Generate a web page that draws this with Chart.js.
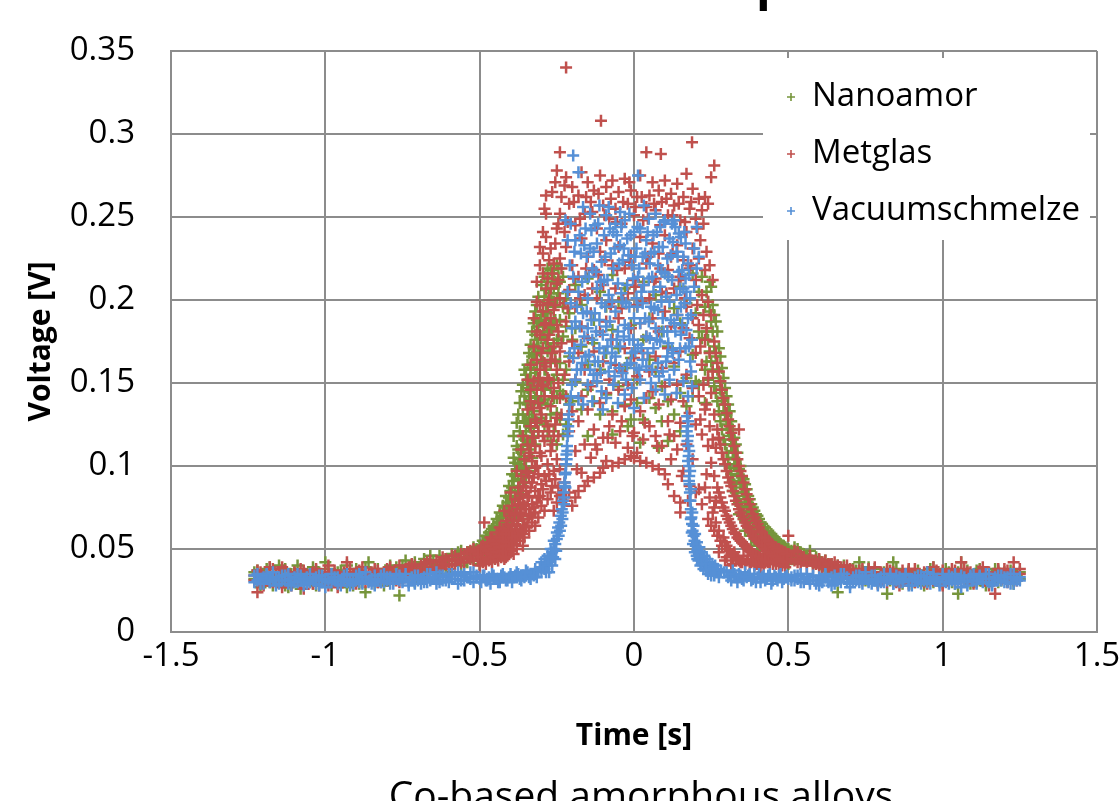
<!DOCTYPE html>
<html>
<head>
<meta charset="utf-8">
<script src="https://cdn.jsdelivr.net/npm/chart.js@4.4.0/dist/chart.umd.min.js"></script>
<style>
  html, body { margin: 0; padding: 0; background: #fff; overflow: hidden; }
  canvas { display: block; }
</style>
</head>
<body>
<canvas id="chart" width="1119" height="801"></canvas>
<script>
// series names / colours
var seriesNames = ['Nanoamor', 'Metglas', 'Vacuumschmelze'];
var seriesColors = ['#76953B', '#C0504D', '#5690D6'];

var titleText = 'p';                       // only the descender of the title is inside the picture
var captionText = 'Co-based amorphous alloys';

// sample times for the flat outer parts (s)
var outerLeftTime = [-1.23,-1.22,-1.21,-1.2,-1.19,-1.18,-1.17,-1.16,-1.15,-1.14,-1.13,-1.12,-1.11,-1.1,-1.09,-1.08,-1.07,-1.06,-1.05,-1.04,-1.03,-1.02,-1.01,-1,-0.99,-0.98,-0.97,-0.96,-0.95,-0.94,-0.93,-0.92,-0.91,-0.9,-0.89,-0.88,-0.87,-0.86,-0.85,-0.84,-0.83,-0.82,-0.81,-0.8,-0.79,-0.78,-0.77,-0.76,-0.75,-0.74,-0.73,-0.72,-0.71,-0.7,-0.69,-0.68,-0.67,-0.66,-0.65,-0.64,-0.63,-0.62,-0.61,-0.6,-0.59,-0.58,-0.57,-0.56,-0.55,-0.54,-0.53,-0.52,-0.51];
var outerRightTime = [0.51,0.52,0.53,0.54,0.55,0.56,0.57,0.58,0.59,0.6,0.61,0.62,0.63,0.64,0.65,0.66,0.67,0.68,0.69,0.7,0.71,0.72,0.73,0.74,0.75,0.76,0.77,0.78,0.79,0.8,0.81,0.82,0.83,0.84,0.85,0.86,0.87,0.88,0.89,0.9,0.91,0.92,0.93,0.94,0.95,0.96,0.97,0.98,0.99,1,1.01,1.02,1.03,1.04,1.05,1.06,1.07,1.08,1.09,1.1,1.11,1.12,1.13,1.14,1.15,1.16,1.17,1.18,1.19,1.2,1.21,1.22,1.23,1.24,1.25];

// ---- Nanoamor (V)
var nanoamorLeft = [0.036,0.031,0.027,0.034,0.038,0.030,0.032,0.035,
  0.040,0.031,0.028,0.034,0.030,0.036,0.032,0.026,0.033,0.035,
  0.031,0.029,0.037,0.033,0.030,0.042,0.034,0.028,0.032,0.036,
  0.030,0.033,0.027,0.035,0.031,0.038,0.029,0.034,0.024,0.042,
  0.032,0.036,0.030,0.034,0.028,0.037,0.033,0.031,0.039,0.022,
  0.035,0.043,0.032,0.037,0.030,0.039,0.034,0.036,0.041,0.046,
  0.037,0.040,0.035,0.042,0.038,0.044,0.036,0.043,0.048,0.040,
  0.045,0.042,0.047,0.044,0.050];
var nanoamorLeftB = [0.032,0.037,0.029,0.035,0.031,0.039,0.028,0.034,
  0.036,0.030,0.038,0.027,0.035,0.032,0.040,0.029,0.036,0.031,
  0.034,0.039,0.028,0.036,0.033,0.030,0.038,0.032,0.035,0.029,
  0.037,0.031,0.040,0.033,0.028,0.036,0.034,0.030,0.039,0.032,
  0.035,0.029,0.038,0.033,0.036,0.031,0.040,0.035,0.032,0.037,
  0.040,0.034,0.038,0.036,0.042,0.035,0.039,0.044,0.037,0.041,
  0.043,0.038,0.046,0.040,0.044,0.041,0.047,0.043,0.045,0.049,
  0.042,0.048,0.046,0.051,0.047];
var nanoamorRight = [0.049,0.046,0.050,0.044,0.047,0.043,0.045,0.041,0.044,0.040,
  0.042,0.038,0.041,0.036,0.039,0.024,0.037,0.040,0.035,0.038,
  0.034,0.037,0.042,0.033,0.036,0.031,0.035,0.038,0.032,0.034,
  0.036,0.023,0.033,0.042,0.031,0.035,0.029,0.034,0.037,0.032,
  0.030,0.035,0.033,0.028,0.036,0.032,0.039,0.031,0.034,0.029,
  0.033,0.036,0.030,0.034,0.023,0.042,0.032,0.035,0.029,0.033,
  0.037,0.031,0.034,0.028,0.035,0.032,0.038,0.030,0.033,0.036,
  0.031,0.034,0.029,0.035,0.032];
var nanoamorRightB = [0.047,0.051,0.045,0.048,0.043,0.046,0.049,0.042,0.045,0.043,
  0.039,0.043,0.037,0.041,0.038,0.040,0.035,0.039,0.037,0.034,
  0.038,0.035,0.033,0.037,0.031,0.039,0.034,0.036,0.030,0.035,
  0.033,0.037,0.031,0.035,0.038,0.030,0.034,0.032,0.036,0.029,
  0.034,0.037,0.031,0.035,0.033,0.038,0.030,0.036,0.032,0.035,
  0.038,0.031,0.035,0.029,0.036,0.033,0.031,0.037,0.034,0.030,
  0.035,0.038,0.032,0.036,0.030,0.034,0.033,0.037,0.031,0.035,
  0.033,0.037,0.031,0.034,0.036];
var nanoamorCore = [
  [-0.50,[0.046,0.052,0.041]],[-0.49,[0.049,0.043,0.055]],[-0.48,[0.051,0.045,0.058]],
  [-0.47,[0.047,0.054,0.060]],[-0.46,[0.050,0.057,0.044,0.062]],[-0.45,[0.053,0.061,0.048]],
  [-0.44,[0.058,0.050,0.066]],[-0.43,[0.055,0.063,0.069,0.049]],[-0.42,[0.060,0.072,0.053]],
  [-0.41,[0.066,0.058,0.078]],[-0.40,[0.071,0.062,0.085,0.055]],[-0.39,[0.076,0.067,0.091]],
  [-0.38,[0.082,0.070,0.098,0.061]],[-0.37,[0.088,0.104,0.075]],[-0.36,[0.095,0.112,0.083,0.068]],
  [-0.35,[0.103,0.121,0.090]],[-0.34,[0.110,0.131,0.097,0.142]],[-0.33,[0.118,0.148,0.105,0.135]],
  [-0.32,[0.127,0.156,0.113,0.167]],[-0.31,[0.138,0.172,0.121,0.184]],[-0.30,[0.146,0.191,0.129,0.163]],
  [-0.29,[0.158,0.202,0.140,0.178]],[-0.28,[0.169,0.211,0.151,0.192]],[-0.27,[0.183,0.218,0.162,0.147]],
  [-0.26,[0.196,0.141,0.174,0.207]],
  [-0.25,[0.155,0.201,0.132]],[-0.24,[0.188,0.145]],[-0.23,[0.178,0.214,0.143]],[-0.22,[0.201,0.158]],
  [-0.21,[0.137,0.192,0.166]],[-0.20,[0.176,0.139]],
  [-0.19,[0.209,0.151,0.183]],[-0.17,[0.172,0.134,0.197]],[-0.15,[0.146,0.213,0.161,0.118]],
  [-0.13,[0.188,0.139,0.174]],[-0.11,[0.158,0.205,0.131]],[-0.09,[0.196,0.143,0.168]],
  [-0.07,[0.133,0.182,0.215,0.119]],[-0.05,[0.171,0.148,0.199]],[-0.03,[0.137,0.207,0.159]],
  [-0.02,[0.124]],[-0.01,[0.185,0.128,0.165]],[0.01,[0.152,0.196,0.138]],
  [0.02,[0.114]],[0.03,[0.128,0.176,0.211]],[0.05,[0.164,0.141,0.189]],
  [0.07,[0.203,0.135,0.157]],[0.08,[0.111]],[0.09,[0.148,0.181,0.127]],
  [0.11,[0.172,0.214,0.139,0.115]],[0.13,[0.131,0.160,0.195]],[0.15,[0.186,0.144,0.208,0.121]],
  [0.17,[0.153,0.198,0.136]],[0.19,[0.216,0.167,0.142]],[0.20,[0.192,0.151]],[0.21,[0.181,0.205,0.149]],
  [0.22,[0.177,0.214]],[0.23,[0.196,0.158,0.138]],
  [0.24,[0.199,0.176,0.152]],[0.25,[0.187,0.163,0.208]],[0.26,[0.172,0.148,0.191]],
  [0.27,[0.158,0.181,0.139]],[0.28,[0.146,0.166,0.127]],[0.29,[0.137,0.153,0.116]],
  [0.30,[0.125,0.142,0.108,0.131]],[0.31,[0.118,0.133,0.099]],[0.32,[0.109,0.122,0.091,0.085]],
  [0.33,[0.101,0.113,0.084]],[0.34,[0.094,0.098,0.078,0.071]],[0.35,[0.087,0.093,0.072]],
  [0.36,[0.080,0.089,0.067,0.061]],[0.37,[0.075,0.082,0.063]],[0.38,[0.071,0.077,0.058,0.052]],
  [0.39,[0.068,0.073,0.056]],[0.40,[0.064,0.070,0.054,0.049]],[0.41,[0.066,0.061,0.052]],
  [0.42,[0.063,0.058,0.050]],[0.43,[0.060,0.056,0.049,0.045]],[0.44,[0.058,0.054,0.047]],
  [0.45,[0.057,0.052,0.046]],[0.46,[0.055,0.050,0.045,0.042]],[0.47,[0.054,0.049,0.044]],
  [0.48,[0.052,0.048,0.043]],[0.49,[0.051,0.046,0.042]],[0.50,[0.050,0.045,0.041]]
];
var nanoamorCoreB = [
  [-0.505,[0.048,0.044]],[-0.495,[0.052,0.046]],[-0.485,[0.054,0.048]],[-0.475,[0.051,0.057]],
  [-0.465,[0.055,0.049,0.060]],[-0.455,[0.058,0.052,0.064]],[-0.445,[0.061,0.055,0.068]],
  [-0.435,[0.059,0.066,0.072]],[-0.425,[0.064,0.070,0.076]],[-0.415,[0.069,0.075,0.082,0.063]],
  [-0.405,[0.074,0.081,0.088]],[-0.395,[0.079,0.087,0.095,0.072]],[-0.385,[0.085,0.094,0.102]],
  [-0.375,[0.092,0.101,0.110,0.082]],[-0.365,[0.099,0.108,0.118]],[-0.355,[0.106,0.116,0.127,0.097]],
  [-0.345,[0.115,0.126,0.137]],[-0.335,[0.123,0.137,0.151,0.114]],[-0.325,[0.133,0.147,0.162,0.121]],
  [-0.315,[0.142,0.158,0.176]],[-0.305,[0.152,0.169,0.187,0.139]],[-0.295,[0.163,0.181,0.197]],
  [-0.285,[0.174,0.193,0.206,0.158]],[-0.275,[0.186,0.202,0.171]],[-0.265,[0.199,0.182,0.213]],
  [-0.255,[0.188,0.211,0.164]],[-0.245,[0.204,0.176,0.219]],
  [0.235,[0.205,0.181,0.163]],[0.245,[0.193,0.169,0.211]],[0.255,[0.181,0.158,0.197]],
  [0.265,[0.166,0.187,0.144]],[0.275,[0.153,0.171,0.133]],[0.285,[0.141,0.159,0.122]],
  [0.295,[0.131,0.147,0.113]],[0.305,[0.122,0.137,0.104]],[0.315,[0.113,0.127,0.095]],
  [0.325,[0.105,0.117,0.089]],[0.335,[0.097,0.108,0.082]],[0.345,[0.090,0.100,0.076]],
  [0.355,[0.084,0.092,0.070]],[0.365,[0.078,0.086,0.066]],[0.375,[0.073,0.080,0.062]],
  [0.385,[0.069,0.075,0.059]],[0.395,[0.066,0.071,0.057]],[0.405,[0.063,0.068,0.055]],
  [0.415,[0.061,0.065]],[0.425,[0.059,0.063]],[0.435,[0.057,0.061]],[0.445,[0.055,0.059]],
  [0.455,[0.054,0.057]],[0.465,[0.052,0.055]],[0.475,[0.051,0.053]],[0.485,[0.049,0.052]],
  [0.495,[0.048,0.050]]
];
// outer edge of the rising flank, where the green shows outside the red
var nanoamorFlank = [
  [-0.39,[0.105,0.118]],[-0.38,[0.112,0.126]],[-0.375,[0.131]],[-0.37,[0.121,0.138]],[-0.365,[0.145]],
  [-0.36,[0.131,0.149]],[-0.355,[0.142,0.158]],[-0.35,[0.138,0.155,0.127]],[-0.345,[0.161,0.147]],
  [-0.34,[0.152,0.168,0.124]],[-0.335,[0.173,0.159]],[-0.33,[0.166,0.181,0.129]],[-0.325,[0.186,0.171]],
  [-0.32,[0.179,0.193,0.141]],[-0.315,[0.197,0.188]],[-0.31,[0.202,0.151,0.171]],[-0.30,[0.209,0.177,0.138]],
  [-0.29,[0.214,0.188,0.146,0.125]],[-0.28,[0.219,0.181,0.137,0.118]],[-0.27,[0.204,0.171,0.131,0.115]],
  [-0.26,[0.216,0.187,0.152,0.121]],[-0.25,[0.221,0.176,0.141,0.113]],[-0.24,[0.211,0.162,0.128]],
  [-0.23,[0.196,0.152,0.119]],[-0.22,[0.184,0.141,0.125]]
];

// ---- Metglas (V)
var metglasLeft = [0.034,0.024,0.036,0.028,0.033,0.039,0.030,0.035,
  0.032,0.027,0.037,0.033,0.029,0.035,0.031,0.038,0.026,0.034,
  0.030,0.036,0.032,0.028,0.035,0.033,0.040,0.030,0.034,0.027,
  0.032,0.036,0.042,0.031,0.034,0.029,0.037,0.033,0.030,0.035,
  0.032,0.038,0.030,0.034,0.036,0.031,0.039,0.033,0.035,0.030,
  0.037,0.034,0.039,0.032,0.040,0.036,0.038,0.041,0.035,0.043,
  0.039,0.037,0.042,0.040,0.044,0.038,0.046,0.041,0.043,0.047,
  0.042,0.048,0.044,0.050,0.046];
var metglasLeftB = [0.031,0.037,0.033,0.029,0.036,0.032,0.038,0.030,
  0.035,0.039,0.031,0.034,0.028,0.036,0.033,0.030,0.037,0.032,
  0.035,0.029,0.038,0.033,0.031,0.036,0.028,0.034,0.037,0.032,
  0.030,0.035,0.033,0.038,0.029,0.036,0.032,0.039,0.034,0.031,
  0.036,0.033,0.037,0.030,0.035,0.038,0.033,0.036,0.031,0.040,
  0.035,0.038,0.033,0.041,0.037,0.034,0.040,0.036,0.042,0.038,
  0.036,0.043,0.039,0.045,0.041,0.043,0.040,0.046,0.044,0.042,
  0.047,0.045,0.049,0.043,0.048];
var metglasRight = [0.046,0.043,0.048,0.041,0.045,0.042,0.044,0.040,0.043,0.039,
  0.042,0.040,0.038,0.041,0.037,0.040,0.036,0.039,0.035,0.038,
  0.036,0.033,0.037,0.031,0.035,0.038,0.032,0.034,0.029,0.036,
  0.033,0.030,0.037,0.032,0.035,0.028,0.034,0.031,0.038,0.033,
  0.030,0.035,0.032,0.036,0.029,0.034,0.031,0.037,0.033,0.028,
  0.035,0.032,0.038,0.030,0.034,0.042,0.031,0.036,0.033,0.029,
  0.034,0.037,0.031,0.035,0.028,0.033,0.023,0.036,0.032,0.038,
  0.030,0.034,0.042,0.031,0.035];
var metglasRightB = [0.044,0.049,0.042,0.046,0.044,0.040,0.046,0.042,0.041,0.044,
  0.039,0.043,0.041,0.038,0.042,0.037,0.039,0.036,0.040,0.034,
  0.037,0.035,0.033,0.038,0.034,0.032,0.036,0.039,0.033,0.031,
  0.035,0.038,0.032,0.036,0.030,0.034,0.037,0.033,0.029,0.035,
  0.038,0.032,0.034,0.030,0.036,0.033,0.039,0.031,0.035,0.037,
  0.031,0.035,0.033,0.037,0.030,0.034,0.038,0.032,0.036,0.034,
  0.030,0.035,0.039,0.032,0.036,0.031,0.034,0.038,0.033,0.035,
  0.037,0.032,0.036,0.033,0.038];
var metglasCore = [
  [-0.50,[0.044,0.049,0.040]],[-0.49,[0.047,0.042,0.052]],[-0.485,[0.066]],
  [-0.48,[0.045,0.050,0.041]],[-0.47,[0.048,0.053,0.043]],[-0.46,[0.046,0.051,0.042,0.056]],
  [-0.45,[0.049,0.054,0.044]],[-0.44,[0.047,0.052,0.058,0.043]],[-0.43,[0.050,0.056,0.045]],
  [-0.42,[0.053,0.048,0.061,0.044]],[-0.41,[0.051,0.057,0.065,0.046]],[-0.40,[0.055,0.049,0.062,0.070]],
  [-0.39,[0.053,0.059,0.067,0.047]],[-0.38,[0.057,0.064,0.074,0.050]],[-0.37,[0.055,0.062,0.071,0.081]],
  [-0.366,[0.110]],[-0.36,[0.059,0.068,0.078,0.088,0.052]],[-0.35,[0.063,0.074,0.085,0.097]],
  [-0.34,[0.061,0.070,0.082,0.094,0.106]],[-0.33,[0.066,0.077,0.090,0.103,0.117]],
  [-0.32,[0.072,0.085,0.099,0.112,0.128,0.064]],[-0.31,[0.069,0.081,0.095,0.121,0.138,0.153]],
  [-0.30,[0.076,0.089,0.106,0.131,0.149,0.168]],[-0.29,[0.073,0.094,0.115,0.142,0.162,0.185,0.255]],
  [-0.28,[0.080,0.101,0.124,0.153,0.176,0.198,0.213]],[-0.27,[0.084,0.109,0.136,0.164,0.189,0.207,0.231]],
  [-0.26,[0.073,0.097,0.118,0.147,0.172,0.194,0.222]],[-0.25,[0.078,0.104,0.129,0.158,0.185,0.210,0.278,0.243]],
  [-0.24,[0.082,0.098,0.141,0.169,0.201,0.225,0.289,0.252]],
  [-0.22,[0.340,0.274,0.232,0.187,0.142,0.079]],[-0.21,[0.258,0.206,0.163,0.121,0.084]],
  [-0.20,[0.268,0.221,0.175,0.133,0.076]],[-0.19,[0.245,0.196,0.152,0.109,0.081]],
  [-0.18,[0.263,0.214,0.168,0.127,0.085]],[-0.17,[0.277,0.237,0.184,0.142,0.096]],
  [-0.16,[0.252,0.203,0.158,0.113,0.088]],[-0.15,[0.271,0.226,0.177,0.134,0.091]],
  [-0.14,[0.259,0.192,0.148,0.105]],[-0.13,[0.266,0.218,0.169,0.122,0.093]],
  [-0.12,[0.243,0.201,0.155,0.110]],[-0.11,[0.275,0.229,0.181,0.138,0.096]],
  [-0.107,[0.308]],[-0.10,[0.257,0.209,0.163,0.117,0.099]],[-0.09,[0.268,0.236,0.187,0.144,0.103]],
  [-0.08,[0.249,0.198,0.152,0.124]],[-0.07,[0.272,0.221,0.176,0.131,0.100]],
  [-0.06,[0.255,0.207,0.161,0.114]],[-0.05,[0.265,0.232,0.189,0.146,0.102]],
  [-0.04,[0.246,0.195,0.157,0.127]],[-0.03,[0.273,0.219,0.171,0.136,0.104]],
  [-0.02,[0.258,0.204,0.149,0.111]],[-0.01,[0.266,0.227,0.183,0.140,0.106]],
  [0.00,[0.251,0.212,0.165,0.120,0.105]],[0.01,[0.262,0.197,0.154,0.108]],
  [0.02,[0.275,0.238,0.186,0.133,0.103]],[0.03,[0.248,0.209,0.168,0.116]],
  [0.04,[0.289,0.256,0.222,0.178,0.141,0.102]],[0.05,[0.263,0.201,0.157,0.124]],
  [0.06,[0.271,0.234,0.189,0.145,0.100]],[0.07,[0.254,0.213,0.166,0.118]],
  [0.08,[0.266,0.228,0.181,0.137,0.098]],[0.087,[0.288]],[0.09,[0.259,0.205,0.159,0.112]],
  [0.10,[0.272,0.239,0.193,0.148,0.095]],[0.11,[0.251,0.218,0.171,0.127,0.089]],
  [0.12,[0.264,0.226,0.184,0.140,0.104]],[0.13,[0.257,0.207,0.162,0.118,0.082]],
  [0.14,[0.270,0.233,0.191,0.149,0.110]],[0.15,[0.248,0.214,0.169,0.126,0.078,0.072]],
  [0.16,[0.262,0.224,0.183,0.139,0.097]],[0.17,[0.276,0.241,0.196,0.155,0.113]],
  [0.18,[0.255,0.219,0.177,0.132,0.088]],[0.188,[0.295]],[0.19,[0.267,0.231,0.189,0.147,0.104]],
  [0.20,[0.249,0.212,0.168,0.125,0.084]],[0.21,[0.261,0.225,0.185,0.142,0.086]],
  [0.22,[0.254,0.203,0.161,0.119,0.077]],[0.23,[0.262,0.218,0.176,0.134,0.087]],
  [0.24,[0.258,0.199,0.153,0.112,0.068]],[0.25,[0.274,0.191,0.144,0.102,0.064]],
  [0.26,[0.281,0.175,0.131,0.094,0.075,0.061]],[0.27,[0.162,0.122,0.087,0.058]],
  [0.28,[0.151,0.113,0.081,0.055]],[0.29,[0.141,0.104,0.075,0.057]],
  [0.30,[0.132,0.097,0.070,0.052,0.045]],[0.31,[0.124,0.090,0.066,0.049]],
  [0.32,[0.116,0.085,0.062,0.047,0.041]],[0.33,[0.108,0.079,0.059,0.045]],
  [0.34,[0.122,0.100,0.074,0.056,0.043]],[0.35,[0.094,0.070,0.054,0.042]],
  [0.36,[0.086,0.066,0.052,0.041]],[0.37,[0.080,0.063,0.050,0.044]],
  [0.38,[0.074,0.060,0.048,0.042]],[0.39,[0.069,0.057,0.047,0.040]],
  [0.40,[0.065,0.055,0.046,0.041]],[0.41,[0.061,0.053,0.045,0.039]],
  [0.42,[0.058,0.051,0.044,0.040]],[0.43,[0.056,0.049,0.043]],[0.44,[0.054,0.048,0.042]],
  [0.45,[0.052,0.047,0.041]],[0.46,[0.051,0.046,0.041]],[0.47,[0.050,0.045,0.040]],
  [0.48,[0.049,0.044,0.040]],[0.49,[0.048,0.044,0.039]],[0.50,[0.047,0.058,0.043]]
];
var metglasCoreB = [
  [-0.505,[0.043,0.047]],[-0.495,[0.045,0.051]],[-0.475,[0.049,0.044,0.054]],[-0.465,[0.047,0.052,0.057]],
  [-0.455,[0.050,0.045,0.055]],[-0.445,[0.048,0.053,0.060]],[-0.435,[0.051,0.046,0.057,0.063]],
  [-0.425,[0.049,0.055,0.062]],[-0.415,[0.052,0.059,0.067,0.045]],[-0.405,[0.054,0.061,0.072]],
  [-0.395,[0.057,0.050,0.065,0.076]],[-0.385,[0.055,0.062,0.071,0.080]],[-0.375,[0.058,0.067,0.077,0.087]],
  [-0.365,[0.061,0.072,0.083,0.094]],[-0.355,[0.064,0.076,0.090,0.104,0.057]],[-0.345,[0.068,0.081,0.096,0.113]],
  [-0.335,[0.071,0.087,0.108,0.124,0.139]],[-0.325,[0.075,0.093,0.117,0.135,0.151]],
  [-0.315,[0.078,0.100,0.126,0.146,0.164,0.181]],[-0.305,[0.082,0.108,0.135,0.158,0.179,0.197]],
  [-0.295,[0.086,0.118,0.148,0.171,0.193,0.216]],[-0.285,[0.091,0.127,0.160,0.186,0.207,0.238]],
  [-0.275,[0.095,0.121,0.152,0.179,0.200,0.224]],[-0.265,[0.088,0.113,0.142,0.168,0.216,0.265]],
  [-0.255,[0.092,0.125,0.163,0.197,0.234,0.271]],[-0.245,[0.087,0.118,0.150,0.181,0.212,0.246]],
  [-0.235,[0.083,0.131,0.174,0.219,0.262]],[-0.225,[0.090,0.155,0.198,0.241,0.269]],
  [-0.215,[0.247,0.195]],[-0.195,[0.259,0.213]],[-0.185,[0.098]],[-0.175,[0.249,0.201]],
  [-0.155,[0.262,0.219]],[-0.135,[0.253,0.207]],[-0.125,[0.113]],[-0.115,[0.264,0.215]],
  [-0.095,[0.251,0.224]],[-0.085,[0.117]],[-0.075,[0.261,0.196]],[-0.055,[0.247,0.218]],
  [-0.045,[0.121]],[-0.035,[0.259,0.201]],[-0.015,[0.271,0.223]],[-0.005,[0.118]],
  [0.005,[0.256,0.208]],[0.025,[0.262,0.199]],[0.035,[0.126]],[0.045,[0.249,0.226]],
  [0.065,[0.258,0.211]],[0.075,[0.112]],[0.085,[0.245,0.219]],[0.105,[0.261,0.204]],
  [0.115,[0.119]],[0.125,[0.251,0.228]],[0.145,[0.258,0.212]],[0.155,[0.094]],
  [0.165,[0.247,0.201]],[0.175,[0.079]],[0.185,[0.259,0.221]],[0.205,[0.243,0.197]],
  [0.215,[0.236,0.172,0.128]],[0.225,[0.246,0.191,0.149]],[0.235,[0.229,0.183,0.137,0.095]],
  [0.245,[0.221,0.168,0.124,0.081]],[0.255,[0.212,0.157,0.116,0.072]],
  [0.265,[0.168,0.111,0.079,0.066]],[0.275,[0.157,0.117,0.084,0.061,0.048]],
  [0.285,[0.146,0.108,0.078,0.052]],[0.295,[0.137,0.101,0.073,0.054,0.043]],
  [0.305,[0.128,0.093,0.068,0.050]],[0.315,[0.120,0.088,0.064,0.046,0.040]],
  [0.325,[0.112,0.082,0.060,0.048]],[0.335,[0.104,0.077,0.057,0.044]],
  [0.345,[0.097,0.072,0.055,0.042]],[0.355,[0.090,0.068,0.053,0.046]],
  [0.365,[0.083,0.064,0.051,0.043]],[0.375,[0.077,0.061,0.049,0.041]],
  [0.385,[0.071,0.058,0.047,0.043]],[0.395,[0.067,0.056,0.046,0.041]],
  [0.405,[0.063,0.054,0.045]],[0.415,[0.060,0.052,0.044]],[0.425,[0.057,0.050,0.043]],
  [0.435,[0.055,0.048,0.042]],[0.445,[0.053,0.047]],[0.455,[0.051,0.046]],[0.465,[0.050,0.045]],
  [0.475,[0.049,0.044]],[0.485,[0.048,0.043]],[0.495,[0.047,0.042]]
];
var metglasFlank = [
  [-0.42,[0.073]],[-0.40,[0.084]],[-0.38,[0.097]],[-0.36,[0.118]],
  [-0.345,[0.134,0.152]],[-0.335,[0.161,0.146]],[-0.325,[0.172,0.189]],[-0.315,[0.199,0.211]],
  [-0.305,[0.221,0.232]],[-0.295,[0.241,0.228]],[-0.285,[0.252,0.263]]
];

// ---- Vacuumschmelze (V)
var vacuumLeft = [0.034,0.031,0.029,0.033,0.035,0.030,0.032,0.028,
  0.033,0.031,0.034,0.029,0.032,0.030,0.035,0.031,0.028,0.033,
  0.030,0.032,0.029,0.034,0.031,0.027,0.032,0.030,0.033,0.029,
  0.031,0.034,0.030,0.028,0.032,0.031,0.035,0.029,0.033,0.030,
  0.032,0.028,0.031,0.034,0.030,0.033,0.029,0.032,0.035,0.031,
  0.030,0.033,0.028,0.032,0.034,0.031,0.029,0.033,0.030,0.035,
  0.032,0.029,0.034,0.031,0.033,0.030,0.035,0.032,0.029,0.034,
  0.031,0.033,0.036,0.030,0.034];
var vacuumLeftB = [0.030,0.035,0.032,0.029,0.034,0.031,0.036,0.033,
  0.029,0.034,0.031,0.035,0.028,0.033,0.030,0.034,0.032,0.029,
  0.035,0.031,0.033,0.028,0.034,0.032,0.030,0.035,0.031,0.033,
  0.028,0.032,0.035,0.031,0.029,0.034,0.030,0.033,0.036,0.031,
  0.029,0.034,0.032,0.030,0.035,0.031,0.033,0.029,0.032,0.034,
  0.031,0.035,0.030,0.033,0.029,0.034,0.032,0.030,0.035,0.031,
  0.033,0.036,0.030,0.034,0.031,0.035,0.032,0.034,0.036,0.031,
  0.035,0.033,0.032,0.036,0.033];
var vacuumRight = [0.033,0.031,0.034,0.030,0.032,0.035,0.029,0.033,0.031,0.028,
  0.032,0.034,0.030,0.033,0.029,0.031,0.035,0.032,0.030,0.027,
  0.033,0.031,0.034,0.029,0.032,0.030,0.034,0.031,0.028,0.033,
  0.030,0.032,0.035,0.029,0.031,0.033,0.030,0.034,0.028,0.032,
  0.031,0.034,0.029,0.033,0.030,0.032,0.035,0.031,0.028,0.033,
  0.030,0.034,0.031,0.029,0.032,0.027,0.033,0.030,0.034,0.031,
  0.029,0.033,0.032,0.035,0.030,0.028,0.032,0.034,0.031,0.033,
  0.030,0.035,0.029,0.032,0.031];
var vacuumRightB = [0.031,0.034,0.032,0.035,0.030,0.033,0.031,0.034,0.029,0.033,
  0.030,0.035,0.031,0.028,0.034,0.032,0.030,0.035,0.033,0.029,
  0.031,0.034,0.030,0.033,0.036,0.031,0.029,0.034,0.032,0.030,
  0.035,0.031,0.033,0.029,0.034,0.030,0.032,0.035,0.031,0.028,
  0.033,0.030,0.034,0.031,0.036,0.029,0.033,0.032,0.030,0.035,
  0.032,0.029,0.033,0.035,0.030,0.034,0.031,0.028,0.033,0.035,
  0.031,0.034,0.030,0.032,0.035,0.029,0.033,0.031,0.034,0.030,
  0.033,0.029,0.035,0.031,0.033];
var vacuumCore = [
  [-0.50,[0.032]],[-0.49,[0.034]],[-0.48,[0.031]],[-0.47,[0.033]],[-0.46,[0.035]],
  [-0.45,[0.032]],[-0.44,[0.030]],[-0.43,[0.034]],[-0.42,[0.033]],[-0.41,[0.031]],
  [-0.40,[0.035]],[-0.39,[0.033]],[-0.38,[0.036]],[-0.37,[0.032]],[-0.36,[0.034]],
  [-0.35,[0.037]],[-0.34,[0.033]],[-0.33,[0.035]],[-0.32,[0.038]],[-0.31,[0.036]],
  [-0.300,[0.037,0.042]],[-0.295,[0.039]],[-0.290,[0.044,0.038]],[-0.285,[0.041]],
  [-0.280,[0.046,0.040]],[-0.275,[0.044,0.036]],[-0.270,[0.050,0.045]],[-0.265,[0.048,0.040]],
  [-0.260,[0.055,0.050]],[-0.255,[0.053,0.044]],[-0.250,[0.060,0.056]],[-0.246,[0.063]],
  [-0.242,[0.066]],[-0.240,[0.061]],[-0.237,[0.070]],[-0.234,[0.074]],[-0.232,[0.068]],
  [-0.230,[0.079]],[-0.228,[0.084]],[-0.226,[0.077]],[-0.225,[0.090]],[-0.223,[0.095]],
  [-0.222,[0.087]],[-0.220,[0.101]],[-0.219,[0.107]],[-0.217,[0.112]],[-0.215,[0.118]],
  [-0.213,[0.124]],[-0.211,[0.131]],[-0.209,[0.137]],
  [-0.205,[0.142,0.198,0.246]],[-0.197,[0.287,0.165,0.214]],[-0.190,[0.152,0.236,0.187]],
  [-0.180,[0.277,0.205,0.141]],[-0.172,[0.173,0.228,0.158]],[-0.165,[0.256,0.192,0.137]],
  [-0.157,[0.214,0.166,0.243]],[-0.150,[0.149,0.201,0.183]],[-0.142,[0.231,0.158,0.252]],
  [-0.135,[0.176,0.139,0.219]],[-0.127,[0.245,0.192,0.163]],[-0.120,[0.207,0.151,0.234]],
  [-0.112,[0.171,0.257,0.188]],[-0.105,[0.145,0.223,0.198]],[-0.097,[0.239,0.168,0.212]],
  [-0.090,[0.184,0.141,0.251]],[-0.082,[0.256,0.203,0.157]],[-0.075,[0.162,0.228,0.176]],
  [-0.067,[0.219,0.149,0.241]],[-0.060,[0.193,0.246,0.166]],[-0.052,[0.138,0.210,0.181]],
  [-0.045,[0.233,0.172,0.253]],[-0.037,[0.156,0.199,0.224]],[-0.030,[0.248,0.185,0.143]],
  [-0.022,[0.209,0.161,0.237]],[-0.015,[0.176,0.252,0.196]],[-0.007,[0.147,0.221,0.168]],
  [0.000,[0.241,0.189,0.135]],[0.008,[0.201,0.159,0.231]],[0.013,[0.275,0.173,0.214]],
  [0.020,[0.186,0.243,0.152]],[0.028,[0.226,0.164,0.198]],[0.032,[0.257,0.141,0.209]],
  [0.040,[0.178,0.236,0.160]],[0.048,[0.213,0.249,0.187]],[0.055,[0.150,0.196,0.228]],
  [0.063,[0.239,0.171,0.205]],[0.070,[0.183,0.252,0.146]],[0.078,[0.221,0.162,0.194]],
  [0.085,[0.244,0.208,0.175]],[0.093,[0.157,0.232,0.189]],[0.100,[0.216,0.143,0.248]],
  [0.108,[0.181,0.225,0.166]],[0.115,[0.237,0.199,0.152]],[0.123,[0.170,0.246,0.212]],
  [0.130,[0.248,0.186,0.158]],[0.138,[0.203,0.229,0.144]],[0.145,[0.164,0.217,0.240]],
  [0.152,[0.238,0.179,0.196]],[0.160,[0.151,0.226,0.207]],[0.167,[0.213,0.171,0.234]],
  [0.175,[0.189,0.142,0.222]],[0.182,[0.201,0.163]],[0.188,[0.176,0.148]],
  [0.172,[0.130]],[0.174,[0.124]],[0.175,[0.118]],[0.176,[0.112,0.127]],[0.177,[0.106]],
  [0.178,[0.100]],[0.179,[0.094,0.109]],[0.180,[0.089]],[0.181,[0.084]],[0.182,[0.097]],
  [0.183,[0.079]],[0.184,[0.074]],[0.185,[0.086]],[0.186,[0.069]],[0.188,[0.065]],
  [0.189,[0.072]],[0.190,[0.061]],[0.193,[0.058,0.064]],[0.196,[0.055]],[0.198,[0.059]],
  [0.200,[0.052]],[0.204,[0.054]],[0.205,[0.049,0.044]],[0.210,[0.047]],[0.212,[0.051]],
  [0.215,[0.040]],[0.216,[0.045]],[0.220,[0.048]],[0.222,[0.043]],[0.225,[0.038]],
  [0.228,[0.046]],[0.230,[0.042]],[0.236,[0.044]],[0.238,[0.040]],[0.240,[0.035]],
  [0.245,[0.042]],[0.246,[0.039]],[0.250,[0.034]],[0.254,[0.041]],[0.255,[0.038]],
  [0.263,[0.040]],[0.265,[0.037]],[0.272,[0.038]],[0.282,[0.037]],[0.292,[0.036]],
  [0.30,[0.036]],[0.31,[0.034]],[0.32,[0.037]],[0.33,[0.033]],[0.34,[0.035]],
  [0.35,[0.032]],[0.36,[0.036]],[0.37,[0.034]],[0.38,[0.031]],[0.39,[0.035]],
  [0.40,[0.033]],[0.41,[0.030]],[0.42,[0.034]],[0.43,[0.032]],[0.44,[0.035]],
  [0.45,[0.031]],[0.46,[0.033]],[0.47,[0.034]],[0.48,[0.030]],[0.49,[0.033]],[0.50,[0.032]]
];
var vacuumCoreB = [
  [-0.495,[0.030]],[-0.485,[0.034]],[-0.475,[0.031]],[-0.465,[0.029]],[-0.455,[0.034]],
  [-0.445,[0.032]],[-0.435,[0.030]],[-0.425,[0.035]],[-0.415,[0.031]],[-0.405,[0.033]],
  [-0.395,[0.030]],[-0.385,[0.034]],[-0.375,[0.035]],[-0.365,[0.031]],[-0.355,[0.033]],
  [-0.345,[0.036]],[-0.335,[0.032]],[-0.325,[0.034]],[-0.315,[0.033]],
  [-0.305,[0.039]],[-0.285,[0.036]],[-0.262,[0.045]],[-0.252,[0.049]],[-0.244,[0.058]],
  [-0.236,[0.064]],[-0.231,[0.072]],[-0.227,[0.081]],[-0.224,[0.088]],[-0.221,[0.096]],
  [-0.218,[0.104]],[-0.216,[0.109]],[-0.214,[0.121]],[-0.212,[0.128]],
  [-0.222,[0.248]],[-0.215,[0.236,0.205]],
  [-0.208,[0.168,0.221]],[-0.201,[0.183,0.149]],[-0.193,[0.229,0.171]],[-0.185,[0.196,0.158]],
  [-0.176,[0.239,0.184]],[-0.168,[0.211,0.162]],[-0.161,[0.178,0.233]],[-0.153,[0.193,0.226]],
  [-0.146,[0.167,0.214]],[-0.138,[0.242,0.188]],[-0.131,[0.155,0.229]],[-0.123,[0.181,0.217]],
  [-0.116,[0.246,0.163]],[-0.108,[0.211,0.156]],[-0.101,[0.179,0.134]],[-0.093,[0.226,0.196]],
  [-0.086,[0.172,0.212]],[-0.078,[0.243,0.187]],[-0.071,[0.199,0.168]],[-0.063,[0.231,0.154]],
  [-0.056,[0.176,0.239]],[-0.048,[0.222,0.159]],[-0.041,[0.244,0.204]],[-0.033,[0.178,0.231]],
  [-0.026,[0.198,0.152]],[-0.018,[0.227,0.183]],[-0.011,[0.162,0.239]],[-0.003,[0.213,0.176]],
  [0.004,[0.169,0.226]],[0.011,[0.244,0.196]],[0.017,[0.158,0.219]],[0.024,[0.205,0.171]],
  [0.036,[0.189,0.228]],[0.044,[0.241,0.168]],[0.051,[0.177,0.222]],[0.059,[0.214,0.158]],
  [0.066,[0.229,0.195]],[0.074,[0.176,0.241]],[0.081,[0.232,0.154]],[0.089,[0.199,0.217]],
  [0.096,[0.247,0.181]],[0.104,[0.163,0.202]],[0.111,[0.214,0.174]],[0.119,[0.188,0.227]],
  [0.126,[0.235,0.168]],[0.134,[0.181,0.244]],[0.141,[0.226,0.191]],[0.149,[0.207,0.171]],
  [0.156,[0.185,0.218]],[0.163,[0.241,0.198]],[0.170,[0.205,0.182]],[0.178,[0.215,0.172]],
  [0.185,[0.191,0.157]],[0.195,[0.231,0.208]],[0.203,[0.244,0.219]],[0.210,[0.226]],
  [0.171,[0.121]],[0.173,[0.115]],[0.175,[0.103]],[0.178,[0.091]],[0.181,[0.079]],
  [0.184,[0.068]],[0.187,[0.060]],[0.191,[0.053]],[0.197,[0.048]],[0.203,[0.046]],
  [0.209,[0.043]],[0.219,[0.041]],[0.233,[0.037]],[0.260,[0.034]],[0.275,[0.033]],
  [0.305,[0.033]],[0.315,[0.031]],[0.325,[0.035]],[0.335,[0.030]],[0.345,[0.034]],
  [0.355,[0.031]],[0.365,[0.033]],[0.375,[0.035]],[0.385,[0.032]],[0.395,[0.030]],
  [0.405,[0.035]],[0.415,[0.033]],[0.425,[0.031]],[0.435,[0.034]],[0.445,[0.029]],
  [0.455,[0.034]],[0.465,[0.031]],[0.475,[0.035]],[0.485,[0.032]],[0.495,[0.034]]
];

var gridColor = '#8c8c8c';
var fontFamily = '"Open Sans", "DejaVu Sans", sans-serif';

function toPoints(lefts, cores, rights) {
  var pts = [];
  lefts.forEach(function (list) {
    list.forEach(function (v, i) { pts.push({x: outerLeftTime[i], y: v}); });
  });
  cores.forEach(function (list) {
    list.forEach(function (c) {
      c[1].forEach(function (v) { pts.push({x: c[0], y: v}); });
    });
  });
  rights.forEach(function (list) {
    list.forEach(function (v, i) { pts.push({x: outerRightTime[i], y: v}); });
  });
  return pts;
}

function makeSet(idx, pts) {
  return {
    label: seriesNames[idx],
    data: pts,
    borderColor: seriesColors[idx],
    backgroundColor: seriesColors[idx],
    pointStyle: 'cross',
    pointRadius: 6,
    pointBorderWidth: 2.5,
    pointHoverRadius: 6
  };
}

var fmt = function (v) { return String(Math.round(v * 100) / 100); };

// legend + cut off texts
var overlay = {
  id: 'overlay',
  afterDraw: function (chart) {
    var ctx = chart.ctx;
    ctx.save();
    ctx.fillStyle = '#000';
    ctx.textAlign = 'left';
    ctx.textBaseline = 'alphabetic';
    ctx.font = 'bold 48px ' + fontFamily;
    ctx.fillText(titleText, 756, -1);

    ctx.textAlign = 'center';
    ctx.font = '39px ' + fontFamily;
    ctx.fillText(captionText, 641, 809);

    // legend box
    ctx.fillStyle = '#fff';
    ctx.fillRect(763, 58, 327, 182);
    [0, 1, 2].forEach(function (i, row) {
      var y = 97 + row * 57;
      ctx.strokeStyle = seriesColors[i];
      ctx.lineWidth = 1.6;
      ctx.beginPath();
      ctx.moveTo(787, y); ctx.lineTo(795, y);
      ctx.moveTo(791, y - 4); ctx.lineTo(791, y + 4);
      ctx.stroke();
      ctx.fillStyle = '#000';
      ctx.textAlign = 'left';
      ctx.textBaseline = 'middle';
      ctx.font = '33px ' + fontFamily;
      ctx.fillText(seriesNames[i], 812, y);
    });
    ctx.restore();
  }
};

var config = {
  type: 'scatter',
  data: {
    // drawn last-first, so Vacuumschmelze ends up on top
    datasets: [
      makeSet(2, toPoints([vacuumLeft, vacuumLeftB], [vacuumCore, vacuumCoreB], [vacuumRight, vacuumRightB])),
      makeSet(1, toPoints([metglasLeft, metglasLeftB], [metglasCore, metglasCoreB, metglasFlank], [metglasRight, metglasRightB])),
      makeSet(0, toPoints([nanoamorLeft, nanoamorLeftB], [nanoamorCore, nanoamorCoreB, nanoamorFlank], [nanoamorRight, nanoamorRightB]))
    ]
  },
  options: {
    responsive: false,
    animation: false,
    devicePixelRatio: 1,
    layout: { padding: { top: 51, right: 0, bottom: 0, left: 0 } },
    plugins: {
      legend: { display: false },
      tooltip: { enabled: false }
    },
    scales: {
      x: {
        type: 'linear',
        min: -1.5,
        max: 1.5,
        ticks: {
          stepSize: 0.5,
          padding: 5,
          maxRotation: 0,
          color: '#000',
          font: { family: fontFamily, size: 33 },
          callback: fmt
        },
        grid: { color: gridColor, lineWidth: 2, drawTicks: false },
        border: { color: gridColor, width: 2 },
        title: {
          display: true,
          text: 'Time [s]',
          color: '#000',
          font: { family: fontFamily, size: 30, weight: 'bold' },
          padding: { top: 0, bottom: 47 }
        },
        afterFit: function (s) { s.height = 169; s.paddingLeft = 0; s.paddingRight = 22; }
      },
      y: {
        min: 0,
        max: 0.35,
        ticks: {
          stepSize: 0.05,
          padding: 36,
          color: '#000',
          font: { family: fontFamily, size: 33 },
          callback: fmt
        },
        grid: { color: gridColor, lineWidth: 2, drawTicks: false },
        border: { color: gridColor, width: 2 },
        title: {
          display: true,
          text: 'Voltage [V]',
          color: '#000',
          font: { family: fontFamily, size: 30, weight: 'bold' },
          padding: { top: 23, bottom: 0 }
        },
        afterFit: function (s) { s.width = 171; s.paddingTop = 0; s.paddingBottom = 0; }
      }
    }
  },
  plugins: [overlay]
};

window.onload = function () {
  var ctx = document.getElementById('chart').getContext('2d');
  window.myChart = new Chart(ctx, config);
};
</script>
</body>
</html>
